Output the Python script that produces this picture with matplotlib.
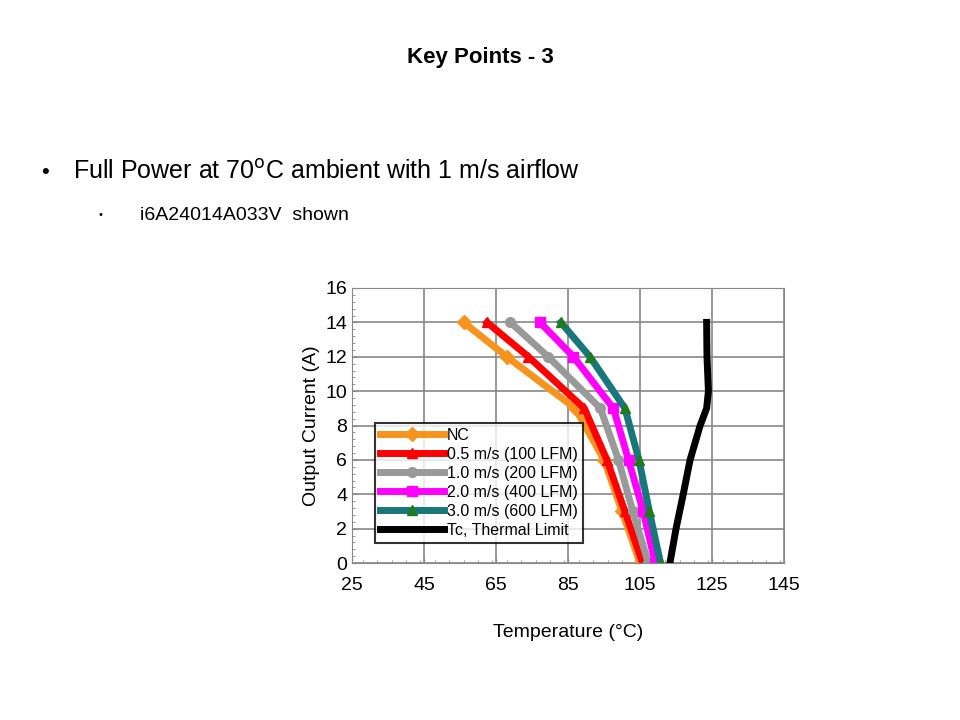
import matplotlib
matplotlib.use("Agg")
import matplotlib.pyplot as plt
from matplotlib.ticker import MultipleLocator, FixedLocator

plt.rcParams["font.family"] = "Liberation Sans"

current = [14, 12, 9, 6, 3, 0]
nc = [56, 68, 87, 95, 100, 105]
v05 = [62.5, 74, 89.5, 95.8, 100.8, 105.7]
v10 = [69, 79.5, 94, 99, 103, 107.3]
v20 = [77.2, 86.5, 97.6, 101.8, 105.9, 109.2]
v30 = [83, 91.1, 100.8, 104.7, 107.6, 110.7]
tc_current = [14, 12, 10, 9, 8, 6, 4, 2, 0]
tc_temp = [123.5, 123.6, 124, 123.5, 121.7, 118.9, 117, 115, 113.3]
x_ticks = [25, 45, 65, 85, 105, 125, 145]
labels = ["NC", "0.5 m/s (100 LFM)", "1.0 m/s (200 LFM)", "2.0 m/s (400 LFM)",
          "3.0 m/s (600 LFM)", "Tc, Thermal Limit"]

fig = plt.figure(figsize=(9.6, 7.2), dpi=100)
fig.text(0.5, 0.92, "Key Points - 3", ha="center", va="center", fontsize=16, fontweight="bold")
fig.text(0.043, 0.761, "•", ha="left", va="center", fontsize=16)
fig.text(0.076, 0.761, "Full Power at 70$^{\\mathrm{o}}$C ambient with 1 m/s airflow", ha="left", va="center", fontsize=18)
fig.text(0.103, 0.701, "•", ha="left", va="center", fontsize=8)
fig.text(0.146, 0.701, "i6A24014A033V  shown", ha="left", va="center", fontsize=14)

ax = fig.add_axes([0.3667, 0.218, 0.45, 0.382])
styles = [(nc, "#F7941D", "D"), (v05, "#FF0000", "^"), (v10, "#999999", "o"),
          (v20, "#FF00FF", "s"), (v30, "#17777A", "^")]
for (vals, c, m), lab in zip(styles, labels[:5]):
    mfc = "#1E7B1E" if lab.startswith("3.0") else c
    ax.plot(vals, current, color=c, lw=5, marker=m, ms=7, mfc=mfc, mec=mfc, label=lab)
ax.plot(tc_temp, tc_current, color="black", lw=5, label=labels[5])

ax.set_xlim(25, 145)
ax.set_ylim(0, 16)
ax.xaxis.set_major_locator(FixedLocator(x_ticks))
ax.xaxis.set_minor_locator(MultipleLocator(4))
ax.yaxis.set_major_locator(MultipleLocator(2))
ax.yaxis.set_minor_locator(MultipleLocator(0.4))
ax.grid(True, which="major", color="#888888", lw=1.2)
for s in ax.spines.values():
    s.set_color("#888888")
ax.tick_params(which="both", direction="in", color="#888888", labelsize=14)
ax.tick_params(axis="x", pad=10)
ax.set_xlabel("Temperature (°C)", fontsize=14, labelpad=22)
ax.set_ylabel("Output Current (A)", fontsize=14)
leg = ax.legend(loc="lower left", bbox_to_anchor=(0.035, 0.045), fontsize=11.5, frameon=True,
                fancybox=False, edgecolor="black", handlelength=4, borderpad=0.3, labelspacing=0.25,
                handletextpad=0.2)
leg.get_frame().set_linewidth(1.5)
leg.set_zorder(5)
fig.savefig("out.png", dpi=100)
